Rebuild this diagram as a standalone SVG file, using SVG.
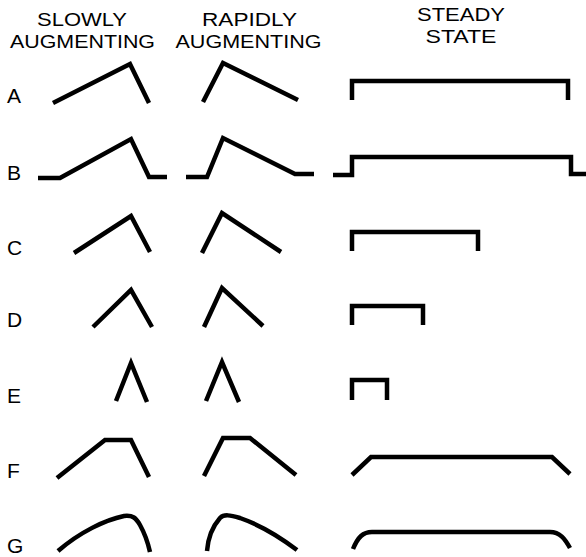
<svg xmlns="http://www.w3.org/2000/svg" width="586" height="557" viewBox="0 0 586 557">
<style>
.h{font-family:"Liberation Sans",Arial,sans-serif;font-size:19px;fill:#000;text-anchor:middle}
.l{font-family:"Liberation Sans",Arial,sans-serif;font-size:21px;fill:#000}
.w{fill:none;stroke:#000;stroke-width:4.5;stroke-linecap:butt;stroke-linejoin:miter}
</style>
<rect width="586" height="557" fill="#fff"/>
<g id="header-slowly">
<text class="h"><tspan x="82" y="26" textLength="90" lengthAdjust="spacingAndGlyphs">SLOWLY</tspan><tspan x="82.5" y="48" textLength="145" lengthAdjust="spacingAndGlyphs">AUGMENTING</tspan></text>
</g>
<g id="header-rapidly">
<text class="h"><tspan x="249.5" y="26" textLength="95" lengthAdjust="spacingAndGlyphs">RAPIDLY</tspan><tspan x="248.5" y="48" textLength="146" lengthAdjust="spacingAndGlyphs">AUGMENTING</tspan></text>
</g>
<g id="header-steady">
<text class="h"><tspan x="461" y="21" textLength="88" lengthAdjust="spacingAndGlyphs">STEADY</tspan><tspan x="461" y="43" textLength="71" lengthAdjust="spacingAndGlyphs">STATE</tspan></text>
</g>
<g id="rowA">
<text class="l" x="7" y="103">A</text>
<path class="w" d="M53,103 L130,64 L149,103"/>
<path class="w" d="M203,102 L223,63 L298,100"/>
<path class="w" d="M352,100 V81 H568 V100"/>
</g>
<g id="rowB">
<text class="l" x="7" y="180">B</text>
<path class="w" d="M38,178 H60 L131,139 L149,177 H167"/>
<path class="w" d="M186,177 H207 L223,138 L295,174 H314"/>
<path class="w" d="M333,175 H352 V157 H571 V174 H586"/>
</g>
<g id="rowC">
<text class="l" x="7" y="255">C</text>
<path class="w" d="M74,253 L131,216 L150,252"/>
<path class="w" d="M202,253 L222,213 L281,252"/>
<path class="w" d="M352,251 V232 H478 V251"/>
</g>
<g id="rowD">
<text class="l" x="7" y="327">D</text>
<path class="w" d="M93,327 L131,290 L152,327"/>
<path class="w" d="M204,327 L222,288 L263,326"/>
<path class="w" d="M352,325 V306 H423 V325"/>
</g>
<g id="rowE">
<text class="l" x="7" y="403">E</text>
<path class="w" d="M116,401 L131,363 L147,402"/>
<path class="w" d="M206,401 L222,362 L239,402"/>
<path class="w" d="M352,400 V380 H387 V400"/>
</g>
<g id="rowF">
<text class="l" x="7" y="478">F</text>
<path class="w" d="M57,478 L105,440 H131 L149,477"/>
<path class="w" d="M204,476 L223,438 H250 L296,475"/>
<path class="w" d="M352,475 L371,457 H552 L570,474"/>
</g>
<g id="rowG">
<text class="l" x="7" y="553">G</text>
<path class="w" d="M58,551 C80,532 105,520 124,516 C133,515 136,518 140,525 C145,534 148,543 150,552"/>
<path class="w" d="M207,551 C208,538 213,526 220,518 C224,514 230,515 240,518 C260,525 280,537 297,550"/>
<path class="w" d="M353,549 C358,537 363,532 372,532 H550 C560,532 565,539 570,548"/>
</g>
</svg>
